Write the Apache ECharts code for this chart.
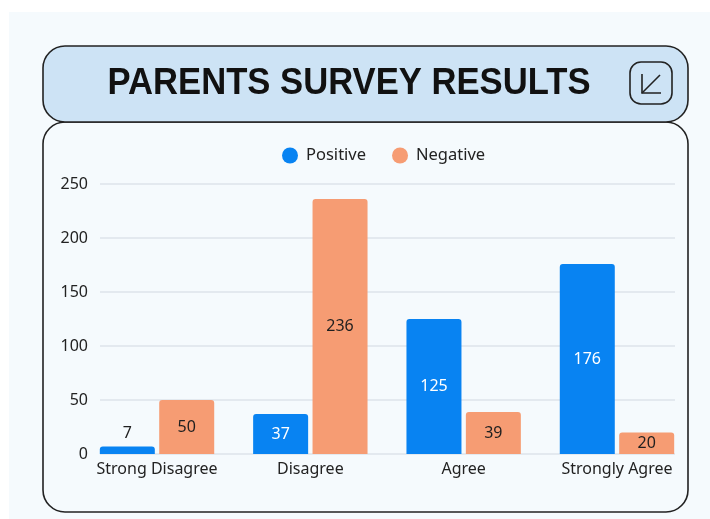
<!DOCTYPE html>
<html><head><meta charset="utf-8">
<script src="https://cdn.jsdelivr.net/npm/echarts@6/dist/echarts.min.js"></script>
<style>html,body{margin:0;padding:0;background:#fff}#c{width:710px;height:519px}</style>
</head><body><div id="c"></div>
<script>
const categories = ['Strong Disagree', 'Disagree', 'Agree', 'Strongly Agree'];
const positive = [7, 37, 125, 176];
const negative = [50, 236, 39, 20];
const yTicks = [0, 50, 100, 150, 200, 250];
const titleText = 'PARENTS SURVEY RESULTS';

const BLUE = '#0883f2', ORANGE = '#f69c73', DARK = '#1f1f1f';
const font = '"Noto Sans", "Open Sans", sans-serif';
function mk(vals, inColor) {
  return vals.map(v => v < 15 ? {value: v, label: {position: 'top', color: DARK}} : {value: v, label: {color: inColor}});
}
const chart = echarts.init(document.getElementById('c'));
chart.setOption({
  animation: false,
  textStyle: {fontFamily: font},
  graphic: [
    {type: 'rect', z: -10, shape: {x: 9, y: 12, width: 701, height: 507}, style: {fill: '#f5fafd'}},
    {type: 'rect', z: -5, shape: {x: 43, y: 122, width: 645, height: 390, r: 22}, style: {fill: '#f5fafd', stroke: '#222', lineWidth: 1.6}},
    {type: 'rect', z: -4, shape: {x: 43, y: 46, width: 645, height: 76, r: 22}, style: {fill: '#cde3f5', stroke: '#222', lineWidth: 1.6}},
    {type: 'text', z: 10, x: 349, y: 84, scaleX: 0.962, style: {text: titleText, x: 0, y: 0, align: 'center', verticalAlign: 'middle', fontSize: 36, fontWeight: 'bold', fontFamily: '"Liberation Sans", Arial, sans-serif', fill: '#111'}},
    {type: 'rect', z: 10, shape: {x: 630, y: 62, width: 42, height: 42, r: 11}, style: {fill: 'none', stroke: '#222', lineWidth: 1.6}},
    {type: 'polyline', z: 10, shape: {points: [[642, 74], [642, 93], [661, 93]]}, style: {fill: 'none', stroke: '#222', lineWidth: 1.6}},
    {type: 'line', z: 10, shape: {x1: 642, y1: 93, x2: 660, y2: 75}, style: {stroke: '#222', lineWidth: 1.6}}
  ],
  legend: {
    top: 142, left: 277, itemWidth: 16, itemHeight: 16, itemGap: 26, icon: 'circle',
    data: ['Positive', 'Negative'],
    textStyle: {fontSize: 16.5, color: '#222', fontFamily: font, padding: [0, 0, 0, 3]}
  },
  grid: [
    {left: 100, right: 35, top: 184, bottom: 65},
    {left: 80.35, right: 16.35, top: 184, bottom: 65}
  ],
  xAxis: [
    {gridIndex: 0, type: 'category', data: categories, show: false},
    {gridIndex: 1, type: 'category', data: categories,
     axisLine: {show: false}, axisTick: {show: false},
     axisLabel: {interval: 0, fontSize: 16, color: '#222', margin: 7, fontFamily: font}}
  ],
  yAxis: [
    {gridIndex: 0, type: 'value', min: yTicks[0], max: yTicks[yTicks.length - 1], interval: 50,
     axisLine: {show: false}, axisTick: {show: false},
     axisLabel: {fontSize: 16, color: '#222', margin: 12, fontFamily: font},
     splitLine: {show: true, lineStyle: {color: '#dde3ea', width: 1.5}}},
    {gridIndex: 1, type: 'value', min: yTicks[0], max: yTicks[yTicks.length - 1], interval: 50, show: false,
     splitLine: {show: false}}
  ],
  series: [
    {type: 'bar', xAxisIndex: 0, yAxisIndex: 0, data: [], silent: true},
    {name: 'Positive', type: 'bar', xAxisIndex: 1, yAxisIndex: 1, data: mk(positive, '#fff'),
     barWidth: 55, barGap: '8%', itemStyle: {color: BLUE, borderRadius: [3, 3, 0, 0]},
     label: {show: true, position: 'inside', fontSize: 16, fontFamily: font}},
    {name: 'Negative', type: 'bar', xAxisIndex: 1, yAxisIndex: 1, data: mk(negative, DARK),
     barWidth: 55, barGap: '8%', itemStyle: {color: ORANGE, borderRadius: [3, 3, 0, 0]},
     label: {show: true, position: 'inside', fontSize: 16, fontFamily: font}}
  ]
});
</script></body></html>
